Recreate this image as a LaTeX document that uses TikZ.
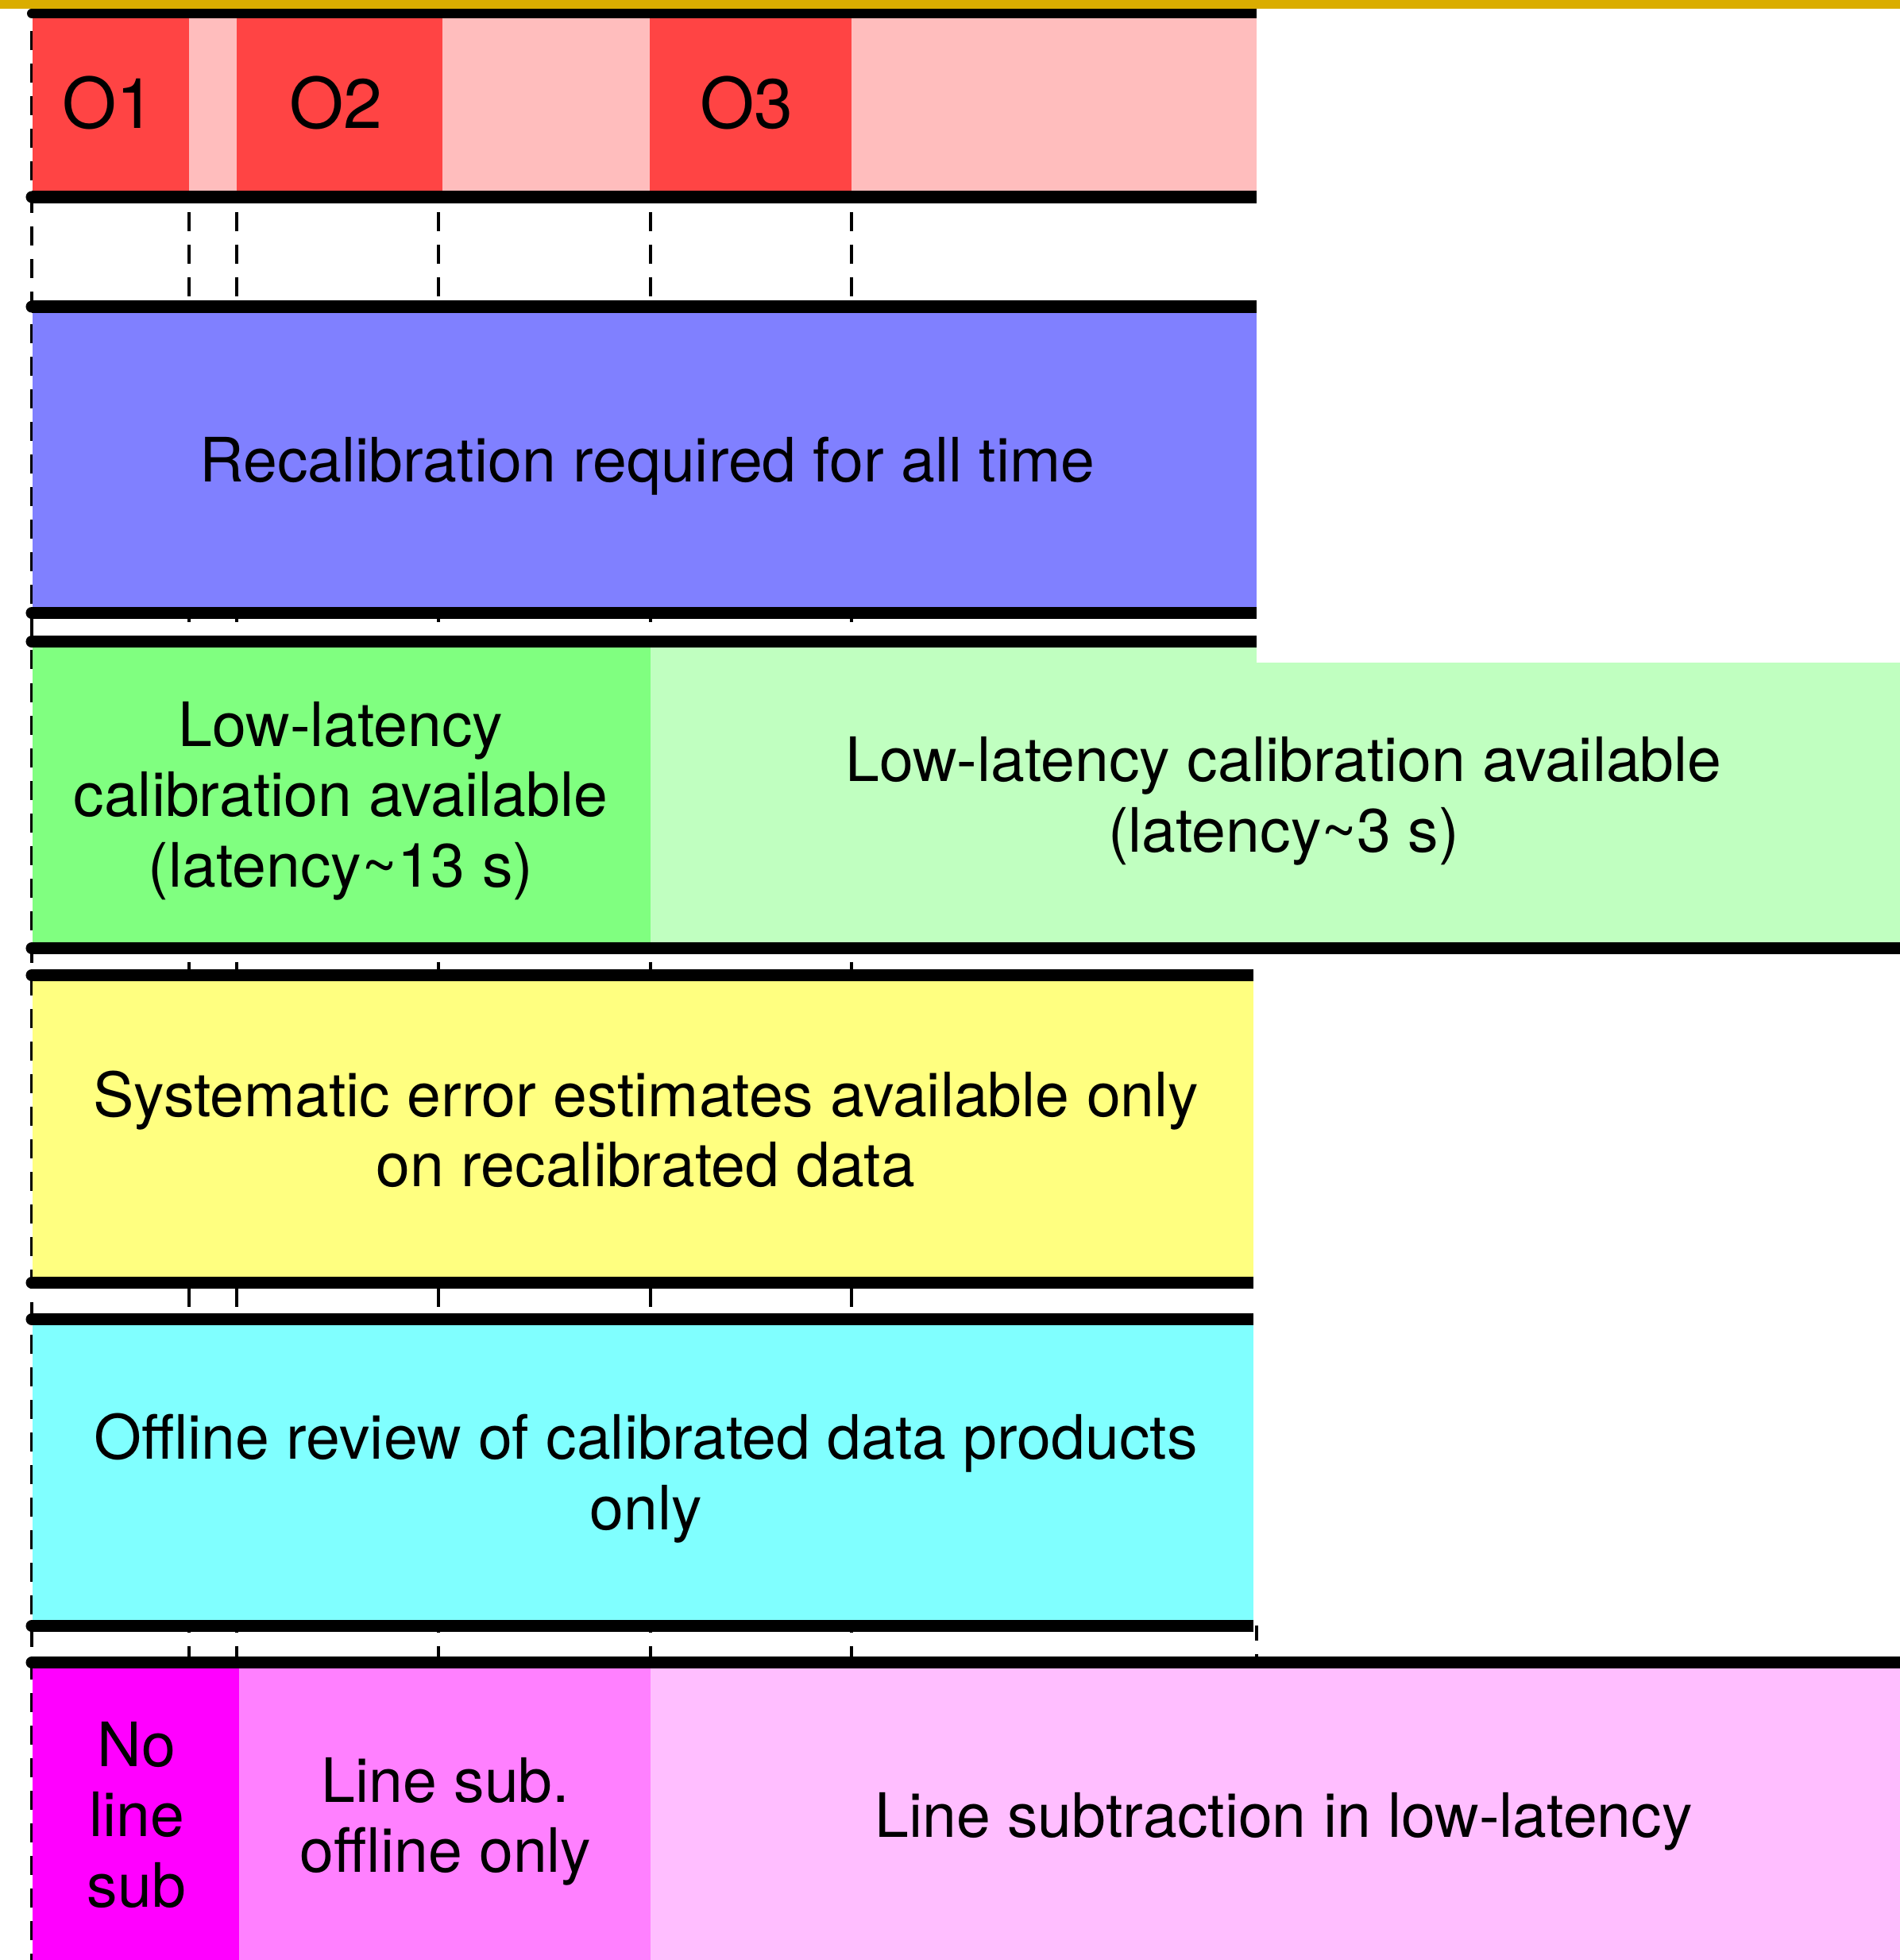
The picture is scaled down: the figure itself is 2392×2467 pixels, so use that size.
\documentclass[tikz,border=0pt]{standalone}
\usepackage{fontspec}
\setmainfont{TeX Gyre Heros}
\definecolor{goldc}{RGB}{218,173,0}
\definecolor{obsred}{RGB}{255,68,68}
\definecolor{obspink}{RGB}{255,189,189}
\definecolor{calblue}{RGB}{128,128,255}
\definecolor{llgreen}{RGB}{128,255,128}
\definecolor{llgreenlt}{RGB}{192,255,192}
\definecolor{sysyellow}{RGB}{255,255,128}
\definecolor{offcyan}{RGB}{128,255,255}
\definecolor{lsmag}{RGB}{255,0,255}
\definecolor{lsmid}{RGB}{255,128,255}
\definecolor{lslight}{RGB}{255,190,255}
\tikzset{
  barline/.style={line width=0.15cm, line cap=butt},
  topbar/.style={line width=0.12cm, line cap=butt},
  guide/.style={line width=0.035cm, dash pattern=on 0.24cm off 0.17cm, dash phase=0.22cm},
  lbl/.style={font=\fontsize{21.9}{25.2}\selectfont, align=center, inner sep=0pt, anchor=base},
  olbl/.style={font=\fontsize{25}{30}\selectfont, inner sep=0pt, anchor=base},
}
\begin{document}
\begin{tikzpicture}[x=0.01cm, y=-0.01cm]
\useasboundingbox (0,0) rectangle (2392,2467);
% gold band at top
\fill[goldc] (0,0) rectangle (2392,11);
% dashed guide lines
\draw[guide, dash phase=0.19cm] (40,17) -- (40,2467);
\foreach \gx in {238,298,552,819,1072} {
  \draw[guide] (\gx,248) -- (\gx,2092);
}
\draw[guide, dash phase=0.05cm] (1582,2046) -- (1582,2092);
% observing runs band
\fill[obsred]  (41,23) rectangle (238,240);
\fill[obspink] (238,23) rectangle (298,240);
\fill[obsred]  (298,23) rectangle (557,240);
\fill[obspink] (557,23) rectangle (818,240);
\fill[obsred]  (818,23) rectangle (1072,240);
\fill[obspink] (1072,23) rectangle (1582,240);
% recalibration band
\fill[calblue] (41,394) rectangle (1582,764);
% low-latency band
\fill[llgreen]   (41,815) rectangle (819,1186);
\fill[llgreenlt] (819,815) rectangle (1582,1186);
\fill[llgreenlt] (1582,834) rectangle (2392,1186);
% systematic band
\fill[sysyellow] (41,1235) rectangle (1578,1607);
% offline review band
\fill[offcyan] (41,1668) rectangle (1578,2039);
% line subtraction band
\fill[lsmag]   (41,2100) rectangle (301,2467);
\fill[lsmid]   (301,2100) rectangle (819,2467);
\fill[lslight] (819,2100) rectangle (2392,2467);
% black separators
\draw[topbar] (40,17) -- (1582,17);
\fill (40,17) circle[radius=0.06cm];
\foreach \by/\bx in {248/1582, 386/1582, 771.5/1582, 807.5/1582, 1193.5/2392,
                     1227.5/1578, 1614.5/1578, 1660.5/1578, 2046.5/1578, 2092.5/2392} {
  \draw[barline] (40,\by) -- (\bx,\by);
  \fill (40,\by) circle[radius=0.075cm];
}
% labels (base anchor = baseline of the last line)
\node[olbl] (o1) at (137,161.7) {O1};
\node[olbl] (o2) at (423,161.7) {O2};
\node[olbl] (o3) at (940,161.7) {O3};
\node[lbl] (recal) at (815,606.7) {Recalibration required for all time};
\node[lbl] (llold) at (429,1116.3) {Low-latency\\calibration available\\(latency\textasciitilde13 s)};
\node[lbl] (llnew) at (1616,1072) {Low-latency calibration available\\(latency\textasciitilde3 s)};
\node[lbl] (syserr) at (813,1493.7) {Systematic error estimates available only\\on recalibrated data};
\node[lbl] (offrev) at (813,1925.3) {Offline review of calibrated data products\\only};
\node[lbl] (nols) at (172,2400.3) {No\\line\\sub};
\node[lbl] (lsoff) at (561,2356.7) {Line sub.\\offline only};
\node[lbl] (lsll) at (1616,2312.7) {Line subtraction in low-latency};
\end{tikzpicture}
\end{document}
